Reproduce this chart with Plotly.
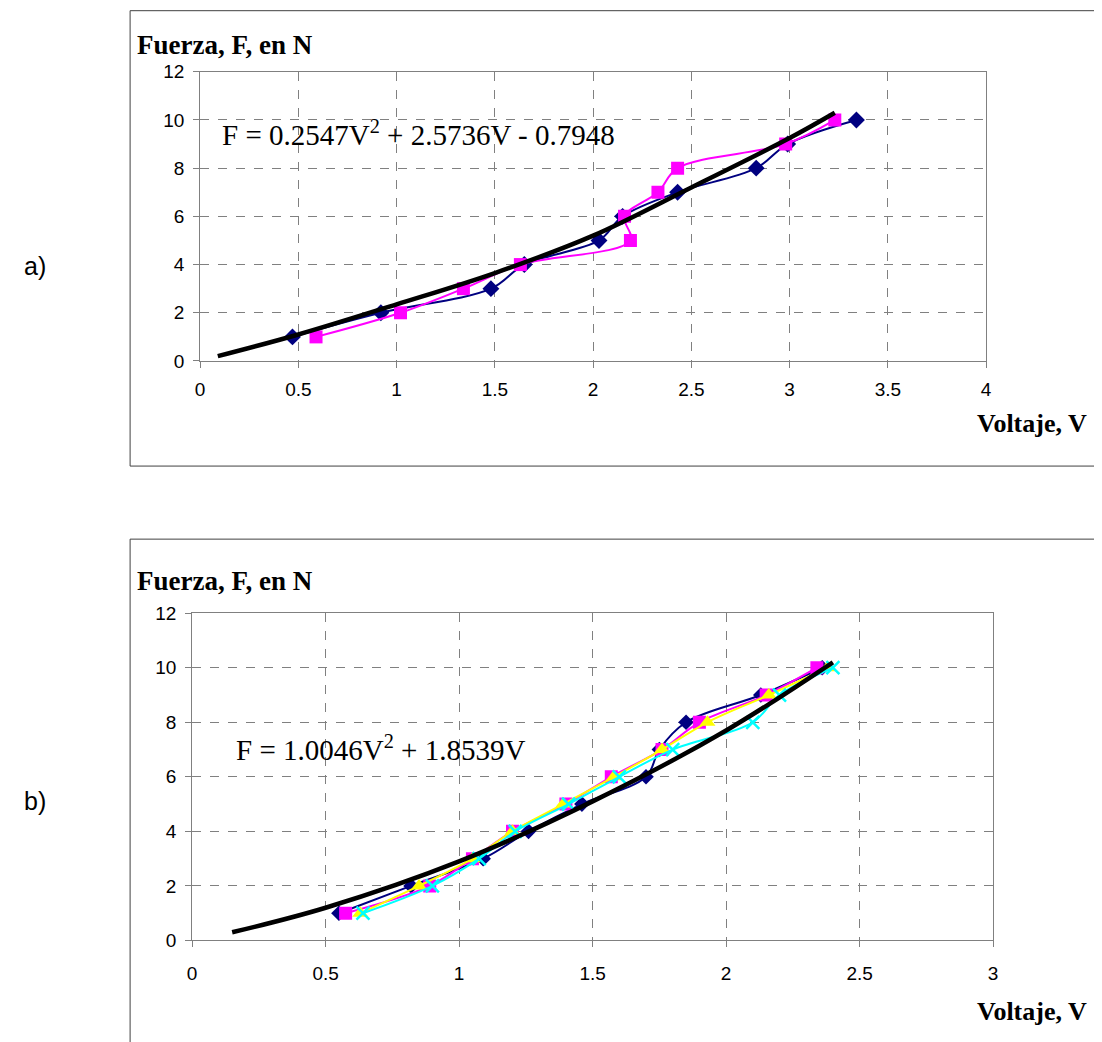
import plotly.graph_objects as go

W, H = 1100, 1040
# empirical page -> picture mapping measured from earlier renders
SX, OX = 0.99, 12.9
SY, OY = 0.979, 17.3
FS = 1.015  # font compensation for the same shrink

# ---------- data: panel a ----------
a_blue_v = [0.47, 0.92, 1.48, 1.65, 2.03, 2.15, 2.43, 2.83, 2.99, 3.34]
a_blue_f = [1, 2, 3, 4, 5, 6, 7, 8, 9, 10]
a_pink_v = [0.59, 1.02, 1.34, 1.63, 2.19, 2.16, 2.33, 2.43, 2.98, 3.23]
a_pink_f = [1, 2, 3, 4, 5, 6, 7, 8, 9, 10]
a_fit_v = [0.09, 0.5, 1.0, 1.5, 2.0, 2.5, 3.0, 3.23]
a_fit_f = [0.2, 1.1, 2.35, 3.65, 5.2, 7.2, 9.25, 10.3]
a_eq = "F = 0.2547V<sup>2</sup> + 2.5736V - 0.7948"

# ---------- data: panel b ----------
b_f = [1, 2, 3, 4, 5, 6, 7, 8, 9, 10]
b_blue_v = [0.55, 0.82, 1.09, 1.26, 1.46, 1.70, 1.75, 1.85, 2.13, 2.36]
b_pink_v = [0.575, 0.89, 1.05, 1.20, 1.40, 1.57, 1.76, 1.90, 2.15, 2.34]
b_yell_v = [0.63, 0.85, 1.05, 1.20, 1.39, 1.58, 1.76, 1.93, 2.16, 2.38]
b_cyan_v = [0.64, 0.90, 1.075, 1.21, 1.41, 1.60, 1.80, 2.10, 2.20, 2.40]
b_fit_v = [0.15, 0.5, 1.0, 1.5, 2.0, 2.4]
b_fit_f = [0.3, 1.2, 2.9, 5.1, 7.7, 10.2]
b_eq = "F = 1.0046V<sup>2</sup> + 1.8539V"

y_ticks = [0, 2, 4, 6, 8, 10, 12]
a_x_ticks = [0, 0.5, 1, 1.5, 2, 2.5, 3, 3.5, 4]
b_x_ticks = [0, 0.5, 1, 1.5, 2, 2.5, 3]

NAVY = "#000080"
MAG = "#ff00ff"
YEL = "#ffff00"
CYAN = "#00ffff"

fig = go.Figure()

def tr(x, y, color, symbol, size, xa, ya, width=2, mline=None):
    marker = dict(color=color, symbol=symbol, size=size)
    if mline:
        marker["line"] = mline
    fig.add_trace(go.Scatter(x=x, y=y, mode="lines+markers",
                             line=dict(color=color, width=width, shape="spline"),
                             marker=marker, xaxis=xa, yaxis=ya, showlegend=False))

tr(a_blue_v, a_blue_f, NAVY, "diamond", 13, "x", "y")
tr(a_pink_v, a_pink_f, MAG, "square", 13, "x", "y")
fig.add_trace(go.Scatter(x=a_fit_v, y=a_fit_f, mode="lines",
                         line=dict(color="black", width=4.5, shape="spline"),
                         xaxis="x", yaxis="y", showlegend=False))

tr(b_blue_v, b_f, NAVY, "diamond", 12, "x2", "y2")
tr(b_pink_v, b_f, MAG, "square", 13, "x2", "y2")
tr(b_yell_v, b_f, YEL, "triangle-up", 14, "x2", "y2")
tr(b_cyan_v, b_f, CYAN, "x-thin", 13, "x2", "y2", mline=dict(color=CYAN, width=2.5))
fig.add_trace(go.Scatter(x=b_fit_v, y=b_fit_f, mode="lines",
                         line=dict(color="black", width=4.5, shape="spline"),
                         xaxis="x2", yaxis="y2", showlegend=False))

def px(x):
    return ((x - OX) / SX) / W

def py(y):
    return 1 - ((y - OY) / SY) / H

def axis_common(standoff):
    return dict(showgrid=True, gridcolor="#808080", griddash="dash", gridwidth=1,
                showline=True, linecolor="#808080", linewidth=1, mirror=True,
                ticks="outside", ticklen=6, tickcolor="#808080", zeroline=False,
                ticklabelstandoff=standoff,
                tickfont=dict(family="Arial, Liberation Sans", size=round(19 * FS), color="black"))

fig.update_layout(
    width=W, height=H, margin=dict(l=0, r=0, t=0, b=0),
    paper_bgcolor="white", plot_bgcolor="white",
    xaxis=dict(domain=[px(200), px(986)], range=[0, 4], tickvals=a_x_ticks,
               ticktext=[f"{v:g}" for v in a_x_ticks], anchor="y", **axis_common(5)),
    yaxis=dict(domain=[py(360), py(71)], range=[0, 12], tickvals=y_ticks,
               anchor="x", **axis_common(5)),
    xaxis2=dict(domain=[px(192), px(993)], range=[0, 3], tickvals=b_x_ticks,
                ticktext=[f"{v:g}" for v in b_x_ticks], anchor="y2", **axis_common(10)),
    yaxis2=dict(domain=[py(939), py(612)], range=[0, 12], tickvals=y_ticks,
                anchor="x2", **axis_common(5)),
)

shapes = [
    dict(type="rect", xref="paper", yref="paper", x0=px(130), x1=px(1115),
         y0=py(465), y1=py(10), line=dict(color="#404040", width=1)),
    dict(type="rect", xref="paper", yref="paper", x0=px(130), x1=px(1115),
         y0=py(1070), y1=py(538), line=dict(color="#404040", width=1)),
]
fig.update_layout(shapes=shapes)

TNR = "Times New Roman, Liberation Serif, serif"
ann = []
def text(x, y, s, size, family, bold=False, xanchor="left"):
    ann.append(dict(xref="paper", yref="paper", x=px(x), y=py(y), text=(f"<b>{s}</b>" if bold else s),
                    showarrow=False, xanchor=xanchor, yanchor="middle",
                    font=dict(family=family, size=round(size * FS), color="black")))

text(135, 44, "Fuerza, F, en N", 27, TNR, bold=True)
text(1089, 422, "Voltaje, V", 26, TNR, bold=True, xanchor="right")
text(220, 132, a_eq, 29, TNR)
text(22, 265, "a)", 25, "Arial, Liberation Sans")

text(135, 580, "Fuerza, F, en N", 27, TNR, bold=True)
text(1089, 1010, "Voltaje, V", 26, TNR, bold=True, xanchor="right")
text(234, 747, b_eq, 29, TNR)
text(22, 800, "b)", 25, "Arial, Liberation Sans")

fig.update_layout(annotations=ann)

fig.write_html("out.html")
